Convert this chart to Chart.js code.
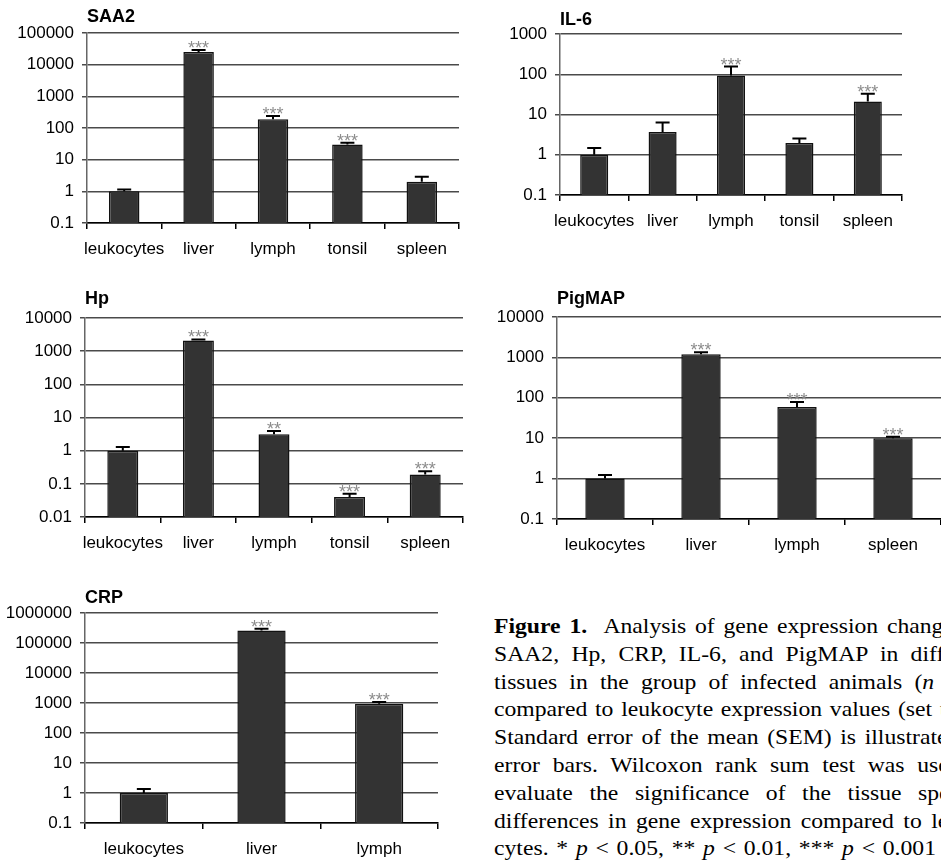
<!DOCTYPE html>
<html>
<head>
<meta charset="utf-8">
<script src="https://cdn.jsdelivr.net/npm/chart.js@4.4.0/dist/chart.umd.min.js"></script>
<style>
html, body { margin: 0; padding: 0; width: 941px; height: 861px; overflow: hidden; background: #fff; }
.panel { position: absolute; }
#caption { position: absolute; left: 494px; top: 613px; width: 447px; height: 248px; overflow: hidden; }
#caption .inner { width: 435px; transform: scaleX(1.144); transform-origin: 0 0;
  font-family: "Liberation Serif", "Times New Roman", serif; font-size: 20.7px; line-height: 27.8px; color: #000; }
#caption .ln { text-align: justify; text-align-last: justify; }
#caption .last { text-align: left; text-align-last: left; word-spacing: 1.6px; }
</style>
</head>
<body>
<div id="caption"><div class="inner">
  <div class="ln"><b>Figure 1.</b>&nbsp; Analysis of gene expression changes of</div>
  <div class="ln">SAA2, Hp, CRP, IL-6, and PigMAP in different</div>
  <div class="ln">tissues in the group of infected animals (<i>n</i> = 5)</div>
  <div class="ln">compared to leukocyte expression values (set to 1).</div>
  <div class="ln">Standard error of the mean (SEM) is illustrated by</div>
  <div class="ln">error bars. Wilcoxon rank sum test was used to</div>
  <div class="ln">evaluate the significance of the tissue specific</div>
  <div class="ln">differences in gene expression compared to leuko-</div>
  <div class="ln last">cytes. * <i>p</i> &lt; 0.05, ** <i>p</i> &lt; 0.01, *** <i>p</i> &lt; 0.001</div>
</div></div>
<script>
// SAA2
const saa2Labels = ['leukocytes', 'liver', 'lymph', 'tonsil', 'spleen'];
const saa2Values = [1, 25000, 190, 30, 2.0];
const saa2Sem = [0.15, 4000, 50, 4, 0.9];
const saa2Stars = ['', '***', '***', '***', ''];
const saa2Ticks = [0.1, 1, 10, 100, 1000, 10000, 100000];

// IL-6
const il6Labels = ['leukocytes', 'liver', 'lymph', 'tonsil', 'spleen'];
const il6Values = [1, 3.7, 93, 1.95, 21];
const il6Sem = [0.48, 2.6, 62, 0.6, 12];
const il6Stars = ['', '', '***', '', '***'];
const il6Ticks = [0.1, 1, 10, 100, 1000];

// Hp
const hpLabels = ['leukocytes', 'liver', 'lymph', 'tonsil', 'spleen'];
const hpValues = [1, 2100, 3.1, 0.04, 0.19];
const hpSem = [0.28, 150, 0.8, 0.01, 0.05];
const hpStars = ['', '***', '**', '***', '***'];
const hpTicks = [0.01, 0.1, 1, 10, 100, 1000, 10000];

// PigMAP
const pigmapLabels = ['leukocytes', 'liver', 'lymph', 'spleen'];
const pigmapValues = [1, 1200, 59, 10];
const pigmapSem = [0.23, 150, 20, 0.8];
const pigmapStars = ['', '***', '***', '***'];
const pigmapTicks = [0.1, 1, 10, 100, 1000, 10000];

// CRP
const crpLabels = ['leukocytes', 'liver', 'lymph'];
const crpValues = [1, 263000, 950];
const crpSem = [0.35, 37000, 120];
const crpStars = ['', '***', '***'];
const crpTicks = [0.1, 1, 10, 100, 1000, 10000, 100000, 1000000];

const FONT = '"Liberation Sans", Arial, sans-serif';

// SEM whiskers + significance stars above each bar
const errorBars = {
    id: 'errorBars',
    afterDatasetsDraw(chart) {
        const ctx = chart.ctx;
        const y = chart.scales.y;
        const ds = chart.data.datasets[0];
        const meta = chart.getDatasetMeta(0);
        ctx.save();
        meta.data.forEach((bar, i) => {
            const top = y.getPixelForValue(ds.data[i] + ds.sem[i]);
            ctx.strokeStyle = '#000';
            ctx.lineWidth = 2;
            ctx.beginPath();
            ctx.moveTo(bar.x, bar.y);
            ctx.lineTo(bar.x, top);
            ctx.moveTo(bar.x - 7, top);
            ctx.lineTo(bar.x + 7, top);
            ctx.stroke();
            if (ds.stars[i]) {
                ctx.fillStyle = '#8c8c8c';
                ctx.font = '18px ' + FONT;
                ctx.textAlign = 'center';
                ctx.textBaseline = 'alphabetic';
                ctx.fillText(ds.stars[i], bar.x, top + 4);
            }
        });
        ctx.restore();
    }
};

function drawPanel(title, box, area, titleY, labels, values, sem, stars, ticks) {
    const [bl, bt, bw, bh] = box;
    const [al, at, ar, ab] = area;
    const wrap = document.createElement('div');
    wrap.className = 'panel';
    wrap.style.left = bl + 'px';
    wrap.style.top = bt + 'px';
    const canvas = document.createElement('canvas');
    canvas.width = bw;
    canvas.height = bh;
    wrap.appendChild(canvas);
    document.body.appendChild(wrap);

    const padTop = titleY - bt - 10.8;
    new Chart(canvas, {
        type: 'bar',
        data: {
            labels: labels,
            datasets: [{
                data: values,
                sem: sem,
                stars: stars,
                backgroundColor: '#333333',
                borderColor: '#111111',
                borderWidth: 1.5,
                barPercentage: 0.41,
                categoryPercentage: 1
            }]
        },
        options: {
            responsive: false,
            animation: false,
            layout: { padding: { left: 0, top: 0, right: bl + bw - ar, bottom: 0 } },
            plugins: {
                legend: { display: false },
                tooltip: { enabled: false },
                title: {
                    display: true,
                    text: title,
                    align: 'start',
                    fullSize: false,
                    color: '#000',
                    font: { family: FONT, size: 18, weight: 'bold', lineHeight: 1.2 },
                    padding: { top: padTop, bottom: at - bt - padTop - 21.6 }
                }
            },
            scales: {
                x: {
                    afterFit: s => { s.height = bt + bh - ab; },
                    grid: { display: true, drawOnChartArea: false, tickLength: 6, color: '#000', lineWidth: 1.5, offset: true },
                    border: { color: '#000', width: 1.5 },
                    ticks: { color: '#000', font: { family: FONT, size: 17 }, padding: 10, maxRotation: 0, autoSkip: false }
                },
                y: {
                    type: 'logarithmic',
                    min: ticks[0],
                    max: ticks[ticks.length - 1],
                    afterFit: s => { s.width = al - bl; },
                    afterBuildTicks: s => { s.ticks = ticks.map(v => ({ value: v })); },
                    grid: { color: '#4a4a4a', lineWidth: 1.5, tickLength: 5 },
                    border: { color: '#666', width: 1.5 },
                    ticks: { callback: v => String(v), color: '#000', font: { family: FONT, size: 17 }, padding: 8 }
                }
            }
        },
        plugins: [errorBars]
    });
}

drawPanel('SAA2', [0, 0, 470, 265], [87, 33, 459, 223], 17.5, saa2Labels, saa2Values, saa2Sem, saa2Stars, saa2Ticks);
drawPanel('IL-6', [470, 0, 471, 240], [560, 34, 902, 195], 19.7, il6Labels, il6Values, il6Sem, il6Stars, il6Ticks);
drawPanel('Hp', [0, 280, 470, 285], [85, 318, 463, 517], 299.5, hpLabels, hpValues, hpSem, hpStars, hpTicks);
drawPanel('PigMAP', [470, 280, 471, 285], [557, 317, 941, 519], 299.5, pigmapLabels, pigmapValues, pigmapSem, pigmapStars, pigmapTicks);
drawPanel('CRP', [0, 575, 470, 286], [85, 613, 438, 823], 598.5, crpLabels, crpValues, crpSem, crpStars, crpTicks);
</script>
</body>
</html>
